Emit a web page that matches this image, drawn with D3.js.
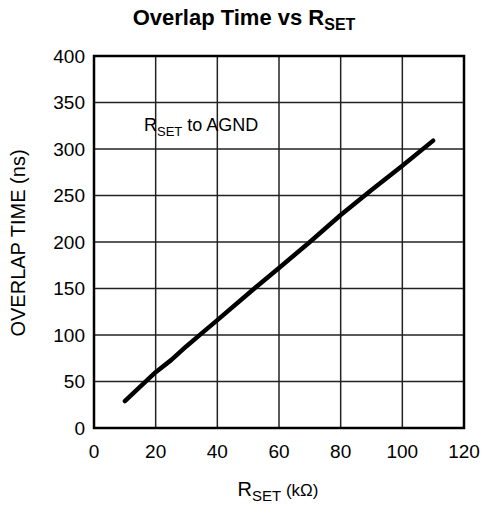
<!DOCTYPE html>
<html>
<head>
<meta charset="utf-8">
<script src="https://cdn.jsdelivr.net/npm/d3@7"></script>
<style>
  body { margin: 0; background: #fff; }
  text { font-family: "Liberation Sans", Arial, sans-serif; fill: #000; }
</style>
</head>
<body>
<div id="chart"></div>
<script>
let width = 483;
let height = 505;

let rset = [10, 20, 25, 30, 35, 40, 52, 60, 70, 80, 90, 100, 110];
let overlap = [29, 60, 73, 88, 102, 116, 150, 172, 200, 229, 256, 282, 309];
let xTicks = [0, 20, 40, 60, 80, 100, 120];
let yTicks = [0, 50, 100, 150, 200, 250, 300, 350, 400];

let margin = {left: 94, right: 19, top: 56, bottom: 77};

let x = d3.scaleLinear().domain([0, 120]).range([margin.left, width - margin.right]);
let y = d3.scaleLinear().domain([0, 400]).range([height - margin.bottom, margin.top]);

let svg = d3.select("#chart").append("svg")
    .attr("width", width)
    .attr("height", height);

// grid
svg.append("g")
    .attr("stroke", "#222")
    .attr("stroke-width", 1.5)
    .selectAll("line")
    .data(xTicks.slice(1, -1))
    .join("line")
    .attr("x1", d => x(d)).attr("x2", d => x(d))
    .attr("y1", y(0)).attr("y2", y(400));

svg.append("g")
    .attr("stroke", "#222")
    .attr("stroke-width", 1.5)
    .selectAll("line")
    .data(yTicks.slice(1, -1))
    .join("line")
    .attr("x1", x(0)).attr("x2", x(120))
    .attr("y1", d => y(d)).attr("y2", d => y(d));

// frame
svg.append("rect")
    .attr("x", x(0)).attr("y", y(400))
    .attr("width", x(120) - x(0))
    .attr("height", y(0) - y(400))
    .attr("fill", "none")
    .attr("stroke", "#000")
    .attr("stroke-width", 2.5);

// tick labels
svg.append("g")
    .attr("font-size", 19)
    .attr("text-anchor", "end")
    .selectAll("text")
    .data(yTicks)
    .join("text")
    .attr("x", x(0) - 9)
    .attr("y", d => y(d))
    .attr("dy", "0.36em")
    .text(d => d);

svg.append("g")
    .attr("font-size", 19)
    .attr("text-anchor", "middle")
    .selectAll("text")
    .data(xTicks)
    .join("text")
    .attr("x", d => x(d))
    .attr("y", y(0) + 30)
    .text(d => d);

// curve
let line = d3.line()
    .x((d, i) => x(rset[i]))
    .y(d => y(d));

svg.append("path")
    .datum(overlap)
    .attr("fill", "none")
    .attr("stroke", "#000")
    .attr("stroke-width", 4.5)
    .attr("stroke-linecap", "round")
    .attr("stroke-linejoin", "round")
    .attr("d", line);

// title
let title = svg.append("text")
    .attr("x", 244).attr("y", 25)
    .attr("text-anchor", "middle")
    .attr("font-size", 22)
    .attr("font-weight", "bold");
title.append("tspan").text("Overlap Time vs R");
title.append("tspan").attr("font-size", 16).attr("dy", 5).text("SET");

// annotation
let note = svg.append("text")
    .attr("x", 144).attr("y", 131)
    .attr("font-size", 18);
note.append("tspan").text("R");
note.append("tspan").attr("font-size", 13).attr("dy", 5).text("SET");
note.append("tspan").attr("dy", -5).text(" to AGND");

// axis titles
let xl = svg.append("text")
    .attr("x", 278).attr("y", 496)
    .attr("text-anchor", "middle")
    .attr("font-size", 20);
xl.append("tspan").text("R");
xl.append("tspan").attr("font-size", 15).attr("dy", 5).text("SET");
xl.append("tspan").attr("font-size", 17).attr("dy", -5).text(" (kΩ)");

svg.append("text")
    .attr("transform", `translate(25,${(y(0) + y(400)) / 2 + 1}) rotate(-90)`)
    .attr("text-anchor", "middle")
    .attr("font-size", 20)
    .text("OVERLAP TIME (ns)");
</script>
</body>
</html>
